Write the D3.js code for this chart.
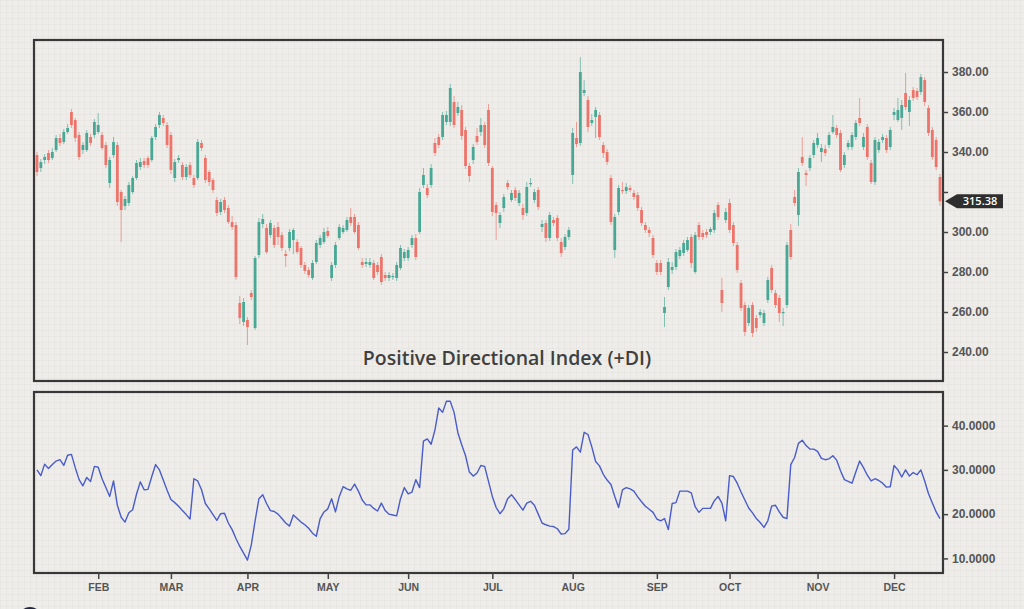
<!DOCTYPE html>
<html>
<head>
<meta charset="utf-8">
<script src="https://cdn.jsdelivr.net/npm/d3@7"></script>
<style>
  body { margin: 0; background: #efede9; }
  svg { display: block; }
</style>
</head>
<body>
<div class="main"></div>
<script>
// one candle per trading day
const open = [
  338.5,332,336,339.5,337,341,347,345,350,360,
  356,348.5,341,341,347.5,348.5,350,348.5,343.5,324.5,
  338.5,343.5,320,313,314.5,320,327,332.5,335.5,337,
  336,347.5,353.5,357,353.5,348.5,327,336,333.5,327.5,
  333.5,327,327,344.5,337,330,326,316,310,316,
  312,305,303.5,264.5,255,256,269.5,252,288.5,304,
  302,298.5,302,302.5,298.5,289,292,296,295,292,
  283.5,281,277,285,293.5,295,300.5,277,283.5,297,
  300,301,307.5,307.5,303.5,285,284,283.5,284.5,283.5,
  287.5,278.5,277,277.5,277,282,287,287,293.5,297,
  300,323.5,322,323.5,344.5,347.5,347.5,355,355,365,
  359.5,361,351,333,336,348,350,353.5,361,332,
  313.5,304.5,312,324.5,316,321,314.5,312,309.5,324,
  316,321,302.5,304.5,297,306,307,295,292.5,297.5,
  328.5,347,344.5,369.5,366,354.5,357.5,358.5,343.5,340,
  327,291,310,321,320.5,322,319.5,318.5,311,303.5,
  301,297,284.5,284.5,259.5,272.5,281,282.5,288,289.5,
  291,297.5,280,303.5,299.5,300,300,301,313.5,271,
  306,314.5,303.5,293.5,274.5,263.5,254.5,263.5,257,258.5,
  254.5,266,282,269.5,267,259.5,263.5,301,317.5,308.5,
  337.5,329.5,332,338.5,343.5,340,341.5,343.5,350,352,
  349.5,333.5,342.5,342.5,347.5,357,342.5,352.5,334.5,325,
  341,346,347,342.5,358.5,356,357,369.5,360,371,
  370.5,370,376,362,351,346,327.5
];
const high = [
  340,336.5,339,341,342,348.5,349,351.5,354,361.5,
  357,350,345,351,349,356.5,359.5,350,345,337.5,
  347.5,345,321,318,325,328,336,337,337,338,
  348,354,360,358.5,355,350,336.5,338.5,335,334,
  335,328.5,346.5,346,338.5,331,327,317.5,316.5,317.5,
  313.5,308,305,268,267,257.5,271,288,307,309,
  304,306,303.5,305,300,291,301.5,302,296.5,293,
  285,282.5,286,296,298.5,302,302.5,285,295,304,
  303.5,307.5,312,309,305,287,287,287,286,285,
  289,280,280,279.5,285,293.5,291.5,292.5,298.5,299,
  322,332,324,334,347,349,360,360.5,374,368,
  365,363.5,352.5,334.5,344,352,357,355,364,333,
  315,310,319,326,321,322.5,321,314,325,327,
  321.5,322.5,306,306,310,307.5,308.5,297,299,302.5,
  352,355,387.5,376,368,359,362.5,360,345,341.5,
  328.5,309,323.5,325,324.5,323.5,321,320,312.5,305,
  302.5,298.5,286,286,267.5,287,285,291.5,292.5,296,
  297.5,299,300,305,301,301.5,302.5,311,315,277,
  312,316.5,305,295,276,265,263.5,265,258.5,261.5,
  261,277.5,283.5,271,268.5,262,295,304,321,332,
  347.5,331,338.5,346,349.5,344,343.5,350,358.5,353.5,
  351,340,346,350,356,367,349.5,354,336,347.5,
  346.5,349,348.5,352.5,362,367,366,379.5,368,372.5,
  372,379,377.5,363.5,352.5,347.5,329
];
const low = [
  328,330,334,334.5,336,340,343,344,349,352,
  345,336,339,340,343,347,349,341,332,322,
  337,313,295,311,313,319,326,331,332,332,
  335,346,352,353,342,329,325,334.5,326,326,
  327,322,326,340.5,324.5,323,319.5,308,308.5,309.5,
  304,301,276,254,253,243.5,266,251,287,302,
  289,297,292,293.5,290.5,282.5,290.5,289,289,282,
  279,277,276,284,292,294,297,275.5,282,296,
  299,300,303,299,291,282,282.5,282,276,278.5,
  273.5,275.5,275.5,276,275.5,281,285.5,285.5,292,286,
  299,322,317,322,338,342,346,353.5,353,352,
  358,346,331.5,325,334,343.5,348,342,333,308,
  296,302,310,321,315,315.5,313,306,308,322.5,
  314.5,311,300,295,295.5,303,295.5,287.5,291,296,
  324,342.5,343,368,350,353,347,346,337,333.5,
  303.5,287,308.5,319,319,320,316,310.5,303,299.5,
  297.5,287,278.5,278.5,252.5,271,279,281,286.5,288,
  290,282,279,296,296,297,298.5,299.5,306,260,
  304.5,299.5,293,279.5,260.5,248,253,247.5,250,257,
  253,264.5,269.5,262,255,253,262,286,313,303,
  333,323,330.5,337,342,335,338,342,349,347,
  330,332,341,341,346,353,341,336,324,323.5,
  339.5,344.5,339.5,341,356,355,351,361,353,365.5,
  366,368.5,363,348,336,331,313
];
const close = [
  330,335,337.5,336,340,347,344.5,350,352,353.5,
  347,337.5,343.5,349.5,344.5,355,353.5,342,333.5,336,
  345,315,311,316.5,323.5,327,334.5,335,333.5,333.5,
  347,352.5,358.5,354.5,343.5,331,335,337,327.5,332.5,
  328.5,323.5,345,342,326,325,321,309.5,315,311,
  305,302.5,277.5,257,265,252.5,267.5,287,305,306.5,
  290,304.5,293.5,297.5,292,288,300,301,290,283.5,
  280.5,278.5,284.5,294.5,297,300,298,283.5,293.5,302.5,
  302,306,304.5,300,292,283.5,285,285,277,280,
  275,277,278.5,278,283.5,292,290,291,297,287.5,
  320,328.5,318.5,332,339.5,343.5,358.5,358.5,372,353.5,
  362.5,348,333,328,342.5,345,353.5,343.5,334.5,310,
  309.5,308.5,317.5,322.5,319.5,317,319.5,308.5,322.5,324.5,
  320,312.5,304,297,308.5,304.5,297,289.5,297.5,301,
  349.5,344,380,371,352.5,356,361,347.5,339.5,335,
  305,307.5,322,320.5,322.5,321,317.5,312,304.5,301,
  299.5,288.5,280,280,262.5,285,282.5,290,291,294.5,
  296,284.5,298.5,297.5,297.5,298.5,301.5,309.5,307.5,264.5,
  310,301,294.5,281,262,250,262,249.5,252,260,
  259.5,276,271,263.5,259.5,260,293.5,287.5,314.5,330,
  334.5,328.5,337,344.5,347,342,339.5,348.5,352.5,348.5,
  331,338.5,344.5,348.5,354.5,354.5,347.5,337.5,325,346,
  345,347.5,341,351,360,361,363.5,362.5,366,367,
  367.5,377.5,365,349.5,337.5,332.5,315.38
];
// +DI indicator, one value per candle
const plusDI = [
  30,28.7,31.3,30.3,31.2,32,32.3,31,33.3,33.5,
  30.5,27.8,26.4,28.3,27.4,30.8,30.6,28,26,24,
  27.5,22,19.3,18.2,20.3,21,24.5,27.3,25.5,25.6,
  28.5,31.2,30,27.7,25.4,23.3,22.6,21.8,20.8,19.9,
  18.9,28,27.5,25.5,22.4,21.2,19.9,18.6,20.1,20.2,
  18,16.5,14.5,12.7,11.2,9.6,13,18.5,23.5,24.4,
  22.4,20.8,20.6,20,19,18,17.3,19.8,19,18.2,
  17.6,16.8,15.7,15,19,20.5,21.2,23.5,20.5,24,
  26.2,25.7,25.4,26.8,25.2,23.2,22.1,22.1,21.3,20.7,
  22.5,20.8,20,19.8,19.6,23.5,26,24.6,25,27.8,
  26,36.5,37,35.8,39,44,43,45.5,45.5,43,
  38.4,35.7,33.2,29.5,28.6,29.3,31,30.8,27.4,24,
  21.5,20.1,21.2,23.5,24.4,23.3,22.1,20.9,22.5,22.9,
  22,20,18,17.6,17.3,17.2,16.7,15.5,15.6,16.6,
  34.5,35.2,34,38.5,38,35.2,31.9,30.9,29,27.7,
  26.7,24,21.5,25.5,26,25.7,25.2,23.9,22.8,21.8,
  21.1,20.4,18.9,18.5,19,16.5,22.4,22.6,25.2,25.2,
  25.2,24.8,21.7,20.4,21.3,21.3,21.3,23,24,22.5,
  18.5,28.7,28.5,27,25,23.2,21.4,20.3,19,18.1,
  17,18.5,21.8,22,20.5,19.3,19,31.2,32.8,36,
  36.7,35.5,34.7,34.7,34.2,32.6,32.3,32.5,33.2,32.2,
  29.8,27.8,27.4,27,29.5,32,30.5,28.8,27.5,28,
  27.6,27,26.1,26.2,31,30,28.4,30,28.6,29.4,
  28.9,30,27.5,24.6,22.5,20.5,19
];
const monthLabels = ["FEB","MAR","APR","MAY","JUN","JUL","AUG","SEP","OCT","NOV","DEC"];
const monthStart = [16,35,55,76,97,119,140,162,181,204,224]; // candle index of first day
const priceTicks = [240,260,280,300,320,340,360,380];
const diTicks = [10,20,30,40];
const chartTitle = "Positive Directional Index (+DI)";

const w = 1024, h = 609;
const left = 34, right = 943;
const top1 = 40, bot1 = 381, top2 = 392, bot2 = 573;
const up = "#48a895", down = "#ec746b";
const n = close.length;

const svg = d3.select(".main").append("svg")
  .attr("width", w).attr("height", h)
  .style("font-family", "'Open Sans', 'Noto Sans', sans-serif");

// graph paper background
const defs = svg.append("defs");
const pat = defs.append("pattern").attr("id", "grid")
  .attr("width", 6).attr("height", 6).attr("patternUnits", "userSpaceOnUse");
pat.append("rect").attr("width", 6).attr("height", 6).attr("fill", "#efede9");
pat.append("path").attr("d", "M6 0 L0 0 0 6").attr("fill", "none")
  .attr("stroke", "#e2dfda").attr("stroke-width", 0.8);
svg.append("rect").attr("width", w).attr("height", h).attr("fill", "url(#grid)");

const x = d3.scaleLinear().domain([0, n - 1]).range([37, 940]);
const yP = d3.scaleLinear().domain([225.5, 396]).range([bot1, top1]);
const yD = d3.scaleLinear().domain([6.7, 47.6]).range([bot2, top2]);

const idx = d3.range(n);

// candles
const cg = svg.append("g");
cg.selectAll("line")
  .data(idx).enter().append("line")
  .attr("x1", (i) => x(i)).attr("x2", (i) => x(i))
  .attr("y1", (i) => yP(high[i])).attr("y2", (i) => yP(low[i]))
  .attr("stroke", (i) => close[i] >= open[i] ? up : down)
  .attr("stroke-opacity", 0.65)
  .attr("stroke-width", 1);
cg.selectAll("rect")
  .data(idx).enter().append("rect")
  .attr("x", (i) => x(i) - 1.4)
  .attr("width", 2.8)
  .attr("y", (i) => yP(Math.max(open[i], close[i])))
  .attr("height", (i) => Math.max(1.2, Math.abs(yP(open[i]) - yP(close[i]))))
  .attr("fill", (i) => close[i] >= open[i] ? up : down);

// +DI line
svg.append("path")
  .datum(idx)
  .attr("fill", "none")
  .attr("stroke", "#4a5cc8")
  .attr("stroke-width", 1.4)
  .attr("stroke-linejoin", "round")
  .attr("d", d3.line().x((i) => x(i)).y((i) => yD(plusDI[i])));

// panel frames
[[top1, bot1], [top2, bot2]].forEach((p) => {
  svg.append("rect")
    .attr("x", left).attr("y", p[0])
    .attr("width", right - left).attr("height", p[1] - p[0])
    .attr("fill", "none").attr("stroke", "#383838").attr("stroke-width", 2.2);
});

// right axes
const yAxis = d3.axisRight(yP).tickValues(priceTicks).tickSize(5).tickPadding(4)
  .tickFormat((d) => d == 320 ? "" : d3.format(".2f")(d));
const gy = svg.append("g").attr("transform", "translate(" + right + ",0)").call(yAxis);

const dAxis = d3.axisRight(yD).tickValues(diTicks).tickSize(5).tickPadding(4)
  .tickFormat(d3.format(".4f"));
const gd = svg.append("g").attr("transform", "translate(" + right + ",0)").call(dAxis);

const xAxis = d3.axisBottom(x).tickValues(monthStart).tickSize(6).tickPadding(5)
  .tickFormat((d, i) => monthLabels[i]);
const gx = svg.append("g").attr("transform", "translate(0," + bot2 + ")").call(xAxis);

[gy, gd, gx].forEach((g) => {
  g.select(".domain").remove();
  g.selectAll(".tick line").attr("stroke", "#444").attr("stroke-width", 1.5);
  g.selectAll(".tick text").attr("fill", "#555").attr("font-size", "12px")
    .attr("font-weight", 600);
});
gx.selectAll(".tick text").attr("font-size", "10.5px");

// last price badge
const last = close[n - 1];
const by = yP(last);
svg.append("path")
  .attr("d", "M" + (right + 2) + "," + by + " L" + (right + 14) + "," + (by - 7) +
        " L1003," + (by - 7) + " L1003," + (by + 7) + " L" + (right + 14) + "," + (by + 7) + "Z")
  .attr("fill", "#2e2e2e");
svg.append("text")
  .attr("x", 980).attr("y", by + 4)
  .attr("text-anchor", "middle")
  .attr("fill", "#fff").attr("font-size", "11px").attr("font-weight", 600)
  .text(last.toFixed(2));

// title
svg.append("text")
  .attr("x", 507).attr("y", 365)
  .attr("text-anchor", "middle")
  .attr("fill", "#3f3f3f").attr("font-size", "19.5px").attr("font-weight", 600)
  .text(chartTitle);

// cropped logo at bottom left
svg.append("circle").attr("cx", 30).attr("cy", 619).attr("r", 12).attr("fill", "#1f2540");
</script>
</body>
</html>
